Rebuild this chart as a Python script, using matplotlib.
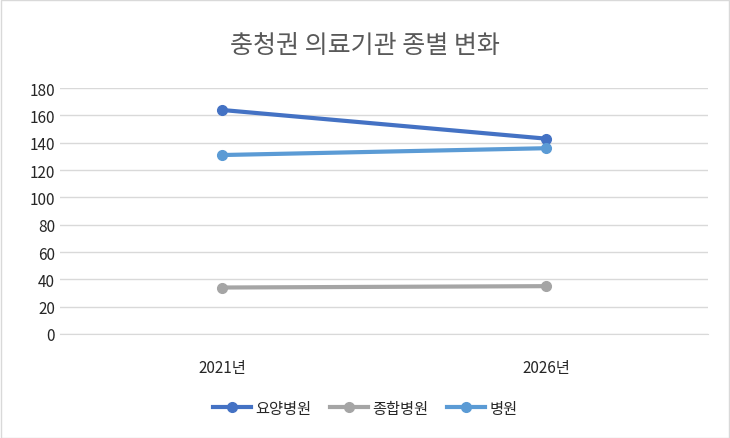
import matplotlib
matplotlib.use("Agg")
import matplotlib.pyplot as plt

plt.rcParams['font.family'] = ['Noto Sans CJK KR', 'DejaVu Sans']

categories = ["2021년", "2026년"]
series_names = ["요양병원", "종합병원", "병원"]
yoyang = [164, 143]
jonghap = [34, 35]
byeongwon = [131, 136]
colors = ["#4472C4", "#A5A5A5", "#5B9BD5"]

fig = plt.figure(figsize=(7.30, 4.39), dpi=100)
ax = fig.add_axes([0.082, 0.237, 0.888, 0.56])
x = range(len(categories))
for vals, name, c in zip([yoyang, jonghap, byeongwon], series_names, colors):
    ax.plot(x, vals, color=c, lw=3, marker='o', markersize=7, label=name)

ax.set_xlim(-0.5, 1.5)
ax.set_ylim(0, 180)
ax.set_yticks(range(0, 181, 20))
ax.set_xticks(list(x))
ax.set_xticklabels(categories)
ax.grid(axis='y', color='#D9D9D9', lw=1)
ax.set_axisbelow(True)
for s in ['top', 'right', 'left']:
    ax.spines[s].set_visible(False)
ax.spines['bottom'].set_color('#D9D9D9')
ax.tick_params(length=0, labelsize=11, colors='#262626')
ax.tick_params(axis='x', pad=18)
fig.text(0.5, 0.895, "충청권 의료기관 종별 변화", ha='center', va='center', fontsize=18, color='#595959')
fig.legend(loc='center', bbox_to_anchor=(0.5, 0.068), ncol=3, frameon=False,
           fontsize=11, labelcolor='#262626', handlelength=2.5, columnspacing=1.2, handletextpad=0.3)
fig.patches.append(plt.Rectangle((0.001, 0.001), 0.998, 0.997, transform=fig.transFigure,
                                 fill=False, edgecolor='#D9D9D9', lw=1))
fig.savefig("out.png", dpi=100)
